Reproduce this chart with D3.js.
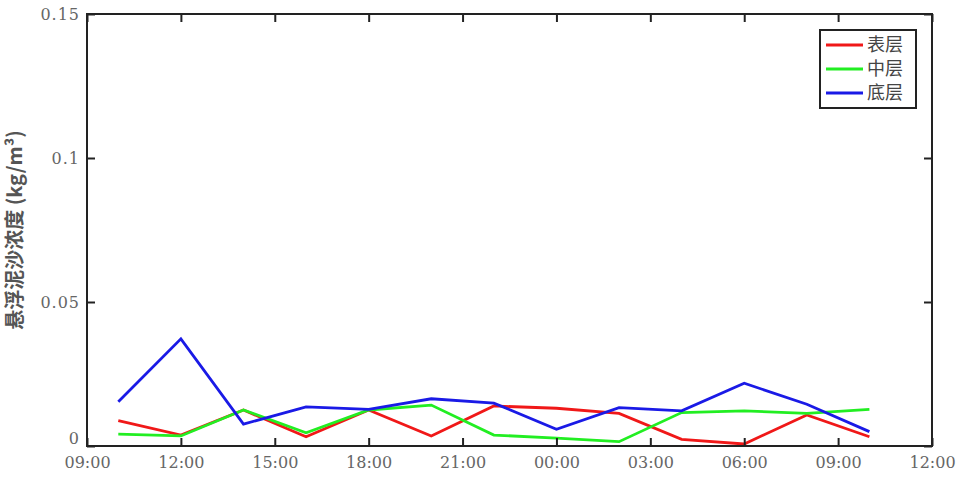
<!DOCTYPE html>
<html><head><meta charset="utf-8">
<script src="https://cdn.jsdelivr.net/npm/d3@7"></script>
<style>body{margin:0;background:#fff}svg{display:block}</style>
</head><body>
<script>
const times = ["10:00","12:00","14:00","16:00","18:00","20:00","22:00","00:00","02:00","04:00","06:00","08:00","10:00"];
const surface = [0.0088,0.0038,0.0125,0.0032,0.0125,0.0035,0.0139,0.0131,0.0113,0.0023,0.0007,0.0108,0.0032];
const middle  = [0.0041,0.0035,0.0125,0.0046,0.0125,0.0142,0.0038,0.0027,0.0015,0.0116,0.0122,0.0113,0.0127];
const bottom  = [0.0154,0.0372,0.0076,0.0136,0.0127,0.0164,0.0149,0.0058,0.0133,0.0122,0.0218,0.0145,0.0050];
const seriesNames = ["表层","中层","底层"];
const seriesColors = ["#f01818","#22ee22","#1a1ae6"];
const xTickLabels = ["09:00","12:00","15:00","18:00","21:00","00:00","03:00","06:00","09:00","12:00"];
const yTicks = [0, 0.05, 0.1, 0.15];
const yTickLabels = ["0","0.05","0.1","0.15"];
const yLabel = "悬浮泥沙浓度 (kg/m³)";

const W=962,H=481, L=87, R=932, T=14, B=446;
const svg=d3.select("body").append("svg").attr("width",W).attr("height",H);

function toHours(arr){ let prev=-1, day=0; return arr.map(s=>{ const [h,m]=s.split(":").map(Number); let v=h+m/60; if(prev>=0 && v<prev) day++; prev=v; return v+24*day-9; }); }
const xs = toHours(times);
const tickHours = toHours(xTickLabels);

const x=d3.scaleLinear().domain([0,27]).range([L,R]);
const y=d3.scaleLinear().domain([0,0.15]).range([B,T]);

const font="'DejaVu Serif','Liberation Serif',serif";
const cjk="'Noto Sans CJK SC','DejaVu Serif',serif";

const line=d3.line().x((d,i)=>x(xs[i])).y(d=>y(d));
[surface,middle,bottom].forEach((s,k)=>{
  svg.append("path").datum(s).attr("d",line).attr("fill","none")
    .attr("stroke",seriesColors[k]).attr("stroke-width",2.8).attr("stroke-linejoin","miter");
});

svg.append("rect").attr("x",L).attr("y",T).attr("width",R-L).attr("height",B-T)
  .attr("fill","none").attr("stroke","#222").attr("stroke-width",2);

const xAxis=d3.axisBottom(x).tickValues(tickHours).tickFormat((d,i)=>xTickLabels[i]).tickSizeInner(-8).tickSizeOuter(0).tickPadding(11);
const gx=svg.append("g").attr("transform",`translate(0,${B})`).call(xAxis);
const xTop=d3.axisTop(x).tickValues(tickHours).tickFormat("").tickSizeInner(-8).tickSizeOuter(0);
const gxt=svg.append("g").attr("transform",`translate(0,${T})`).call(xTop);
const yAxis=d3.axisLeft(y).tickValues(yTicks).tickFormat((d,i)=>yTickLabels[i]).tickSizeInner(-8).tickSizeOuter(0).tickPadding(7);
const gy=svg.append("g").attr("transform",`translate(${L},0)`).call(yAxis);
const yRight=d3.axisRight(y).tickValues(yTicks).tickFormat("").tickSizeInner(-8).tickSizeOuter(0);
const gyr=svg.append("g").attr("transform",`translate(${R},0)`).call(yRight);
[gx,gxt,gy,gyr].forEach(g=>{
  g.select(".domain").remove();
  g.selectAll(".tick line").attr("stroke","#222").attr("stroke-width",2);
  g.selectAll("text").attr("font-family",font).attr("font-size",16).attr("fill","#666");
});
gy.selectAll("text").attr("letter-spacing","1px");
gy.selectAll(".tick").filter(d=>d===0).select("text").attr("dy","-0.15em");

svg.append("text").attr("transform",`translate(22,${(T+B)/2}) rotate(-90)`)
  .attr("text-anchor","middle").attr("font-family",cjk).attr("font-size",20).attr("font-weight","bold").attr("fill","#555")
  .text(yLabel);

const lg=svg.append("g");
lg.append("rect").attr("x",820).attr("y",30).attr("width",96).attr("height",78)
  .attr("fill","#fff").attr("stroke","#222").attr("stroke-width",2);
seriesNames.forEach((n,k)=>{
  const yy=45+k*24;
  lg.append("line").attr("x1",826).attr("x2",863).attr("y1",yy).attr("y2",yy)
    .attr("stroke",seriesColors[k]).attr("stroke-width",2.8);
  lg.append("text").attr("x",867).attr("y",yy).attr("dy","0.36em").attr("font-family",cjk)
    .attr("font-size",18).attr("fill","#444").text(n);
});
</script>
</body></html>
